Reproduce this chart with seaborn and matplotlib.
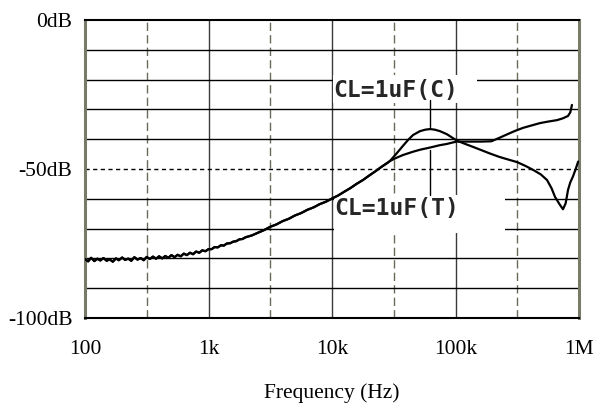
import numpy as np
import pandas as pd
import matplotlib
matplotlib.use("Agg")
import matplotlib.pyplot as plt
import seaborn as sns
from matplotlib.patches import Rectangle

# ---------------- data ----------------
freq_shared = [100, 106, 112, 119, 126, 133, 141, 150, 158, 168, 178, 188, 200, 211, 224,
               237, 251, 266, 282, 299, 316, 335, 355, 376, 398, 422, 447, 473, 501, 531,
               562, 596, 631, 668, 708, 750, 794, 841, 891, 944, 1000, 1060, 1120, 1190,
               1260, 1330, 1410, 1500, 1580, 1680, 1780, 1880, 2000, 2240, 2510, 2820,
               3160, 3550, 3980, 4470, 5010, 5620, 6310, 7080, 7940, 8910, 10000, 11200,
               12600, 14100, 15800, 17800, 20000, 22400, 25100, 28200]
db_shared = [-80.2, -81.0, -79.8, -80.9, -80.1, -80.7, -79.9, -80.8, -80.3, -81.1, -80.0,
             -80.6, -79.7, -80.5, -80.1, -80.8, -79.6, -80.4, -79.9, -80.6, -79.5, -80.2,
             -79.4, -80.1, -79.3, -80.0, -79.2, -79.8, -78.9, -79.6, -78.8, -79.3, -78.4,
             -78.9, -78.1, -78.6, -77.7, -78.1, -77.3, -77.6, -76.9, -76.9, -76.2, -76.3,
             -75.6, -75.7, -75.0, -74.9, -74.4, -74.2, -73.6, -73.5, -72.9, -72.3, -71.4,
             -70.5, -69.4, -68.6, -67.5, -66.7, -65.6, -64.8, -63.7, -62.9, -61.8, -61.0,
             -59.9, -58.9, -57.6, -56.4, -55.0, -53.7, -52.2, -50.8, -49.3, -47.9]

freq_c = [29500, 33000, 37600, 41400, 45300, 51600, 57000, 62200, 68000, 74800, 85000,
          95000, 103000, 120000, 139000, 165000, 190000, 225000, 261000, 316000, 370000,
          425000, 490000, 551000, 600000, 640000, 700000, 742000, 780000, 815000, 850000,
          894000, 940000, 985000]
db_c = [-47.3, -45.0, -42.2, -40.2, -38.6, -37.3, -36.8, -36.6, -36.8, -37.3, -38.3,
        -39.6, -40.5, -41.6, -42.6, -43.8, -44.8, -45.9, -46.7, -47.7, -49.0, -50.3,
        -51.8, -53.7, -56.5, -59.4, -62.0, -63.5, -61.5, -57.0, -54.5, -52.5, -50.0, -47.5]

freq_t = [29500, 33000, 37600, 45300, 52000, 62200, 74800, 85000, 95000, 103000, 130000,
          160000, 195000, 225000, 261000, 300000, 352000, 420000, 483000, 560000, 664000,
          740000, 815000, 850000, 877000]
db_t = [-47.3, -46.3, -45.3, -44.2, -43.5, -42.8, -42.0, -41.6, -41.1, -40.8, -40.8,
        -40.8, -40.7, -39.6, -38.4, -37.3, -36.2, -35.3, -34.6, -34.1, -33.6, -33.0,
        -32.2, -31.0, -28.5]

x_ticks = [100, 1000, 10000, 100000, 1000000]
x_tick_labels = ["100", "1k", "10k", "100k", "1M"]
x_half_decades = [316.2, 3162, 31623, 316228]
y_ticks = [0, -50, -100]
y_tick_labels = ["0dB", "-50dB", "-100dB"]
y_grid = [-10, -20, -30, -40, -60, -70, -80, -90]
label_c = "CL=1uF(C)"
label_t = "CL=1uF(T)"
x_label = "Frequency (Hz)"

# ---------------- figure ----------------
sns.set_theme(style="white")
plt.rcParams["font.family"] = ["Liberation Serif", "DejaVu Serif"]

W, H = 594, 405
fig = plt.figure(figsize=(W / 100, H / 100), dpi=100)
ax = fig.add_axes([85 / W, 1 - 318 / H, (579 - 85) / W, (318 - 20) / H])
ax.set_xscale("log")

df = pd.concat([
    pd.DataFrame({"freq": freq_shared + freq_c, "dB": db_shared + db_c, "series": "C"}),
    pd.DataFrame({"freq": freq_shared + freq_t, "dB": db_shared + db_t, "series": "T"}),
])
sns.lineplot(data=df, x="freq", y="dB", hue="series",
             palette={"C": "black", "T": "black"}, estimator=None, sort=False,
             legend=False, lw=1.6, ax=ax, zorder=5)

ax.set_xlim(100, 1e6)
ax.set_ylim(-100, 0)

# grid
for f in x_ticks[1:-1]:
    ax.axvline(f, color="#3a3a3a", lw=1.0, zorder=1)
for f in x_half_decades:
    ax.axvline(f, color="#6a6a5a", lw=1.0, ls=(0, (6, 3)), zorder=1)
for y in y_grid:
    ax.axhline(y, color="black", lw=1.0, zorder=1)
ax.axhline(-50, color="black", lw=1.0, ls=(0, (3, 2.5)), zorder=1)

# white label backgrounds that interrupt the grid
ax.add_patch(Rectangle((10200, -27.9), 149000 - 10200, 9.4, facecolor="white",
                       edgecolor="none", zorder=2))
ax.add_patch(Rectangle((10400, -71.5), 252000 - 10400, 12.8, facecolor="white",
                       edgecolor="none", zorder=2))

# pointer lines
ic = int(np.argmax(db_c))
f_pk, db_pk = freq_c[ic], db_c[ic]
ax.plot([f_pk, f_pk], [db_pk + 0.8, -27.0], color="black", lw=1.0, zorder=4)
db_t_at = float(np.interp(np.log10(f_pk), np.log10(freq_t), db_t))
ax.plot([f_pk, f_pk], [db_t_at - 0.8, -58.7], color="black", lw=1.0, zorder=4)

lab_font = dict(family="DejaVu Sans Mono", fontweight="bold", fontsize=16.6)
ax.text(10300, -23.6, label_c, ha="left", va="center", zorder=6, **lab_font)
ax.text(10400, -63.4, label_t, ha="left", va="center", zorder=6, **lab_font)

# ticks / labels
ax.minorticks_off()
ax.set_xticks(x_ticks)
ax.set_xticklabels(x_tick_labels)
ax.set_yticks(y_ticks)
ax.set_yticklabels(y_tick_labels)
ax.tick_params(axis="x", length=0, pad=16, labelsize=15.5, colors="black")
ax.tick_params(axis="y", length=0, pad=9, labelsize=15.5, colors="black")
ax.set_xlabel(x_label, fontsize=15.5, labelpad=17, color="black")
ax.set_ylabel("")

for s in ("top", "bottom"):
    ax.spines[s].set_color("black")
    ax.spines[s].set_linewidth(1.5)
for s in ("left", "right"):
    ax.spines[s].set_color("#7a7a6a")
    ax.spines[s].set_linewidth(2.2)

fig.savefig("out.png", dpi=100, facecolor="white")
